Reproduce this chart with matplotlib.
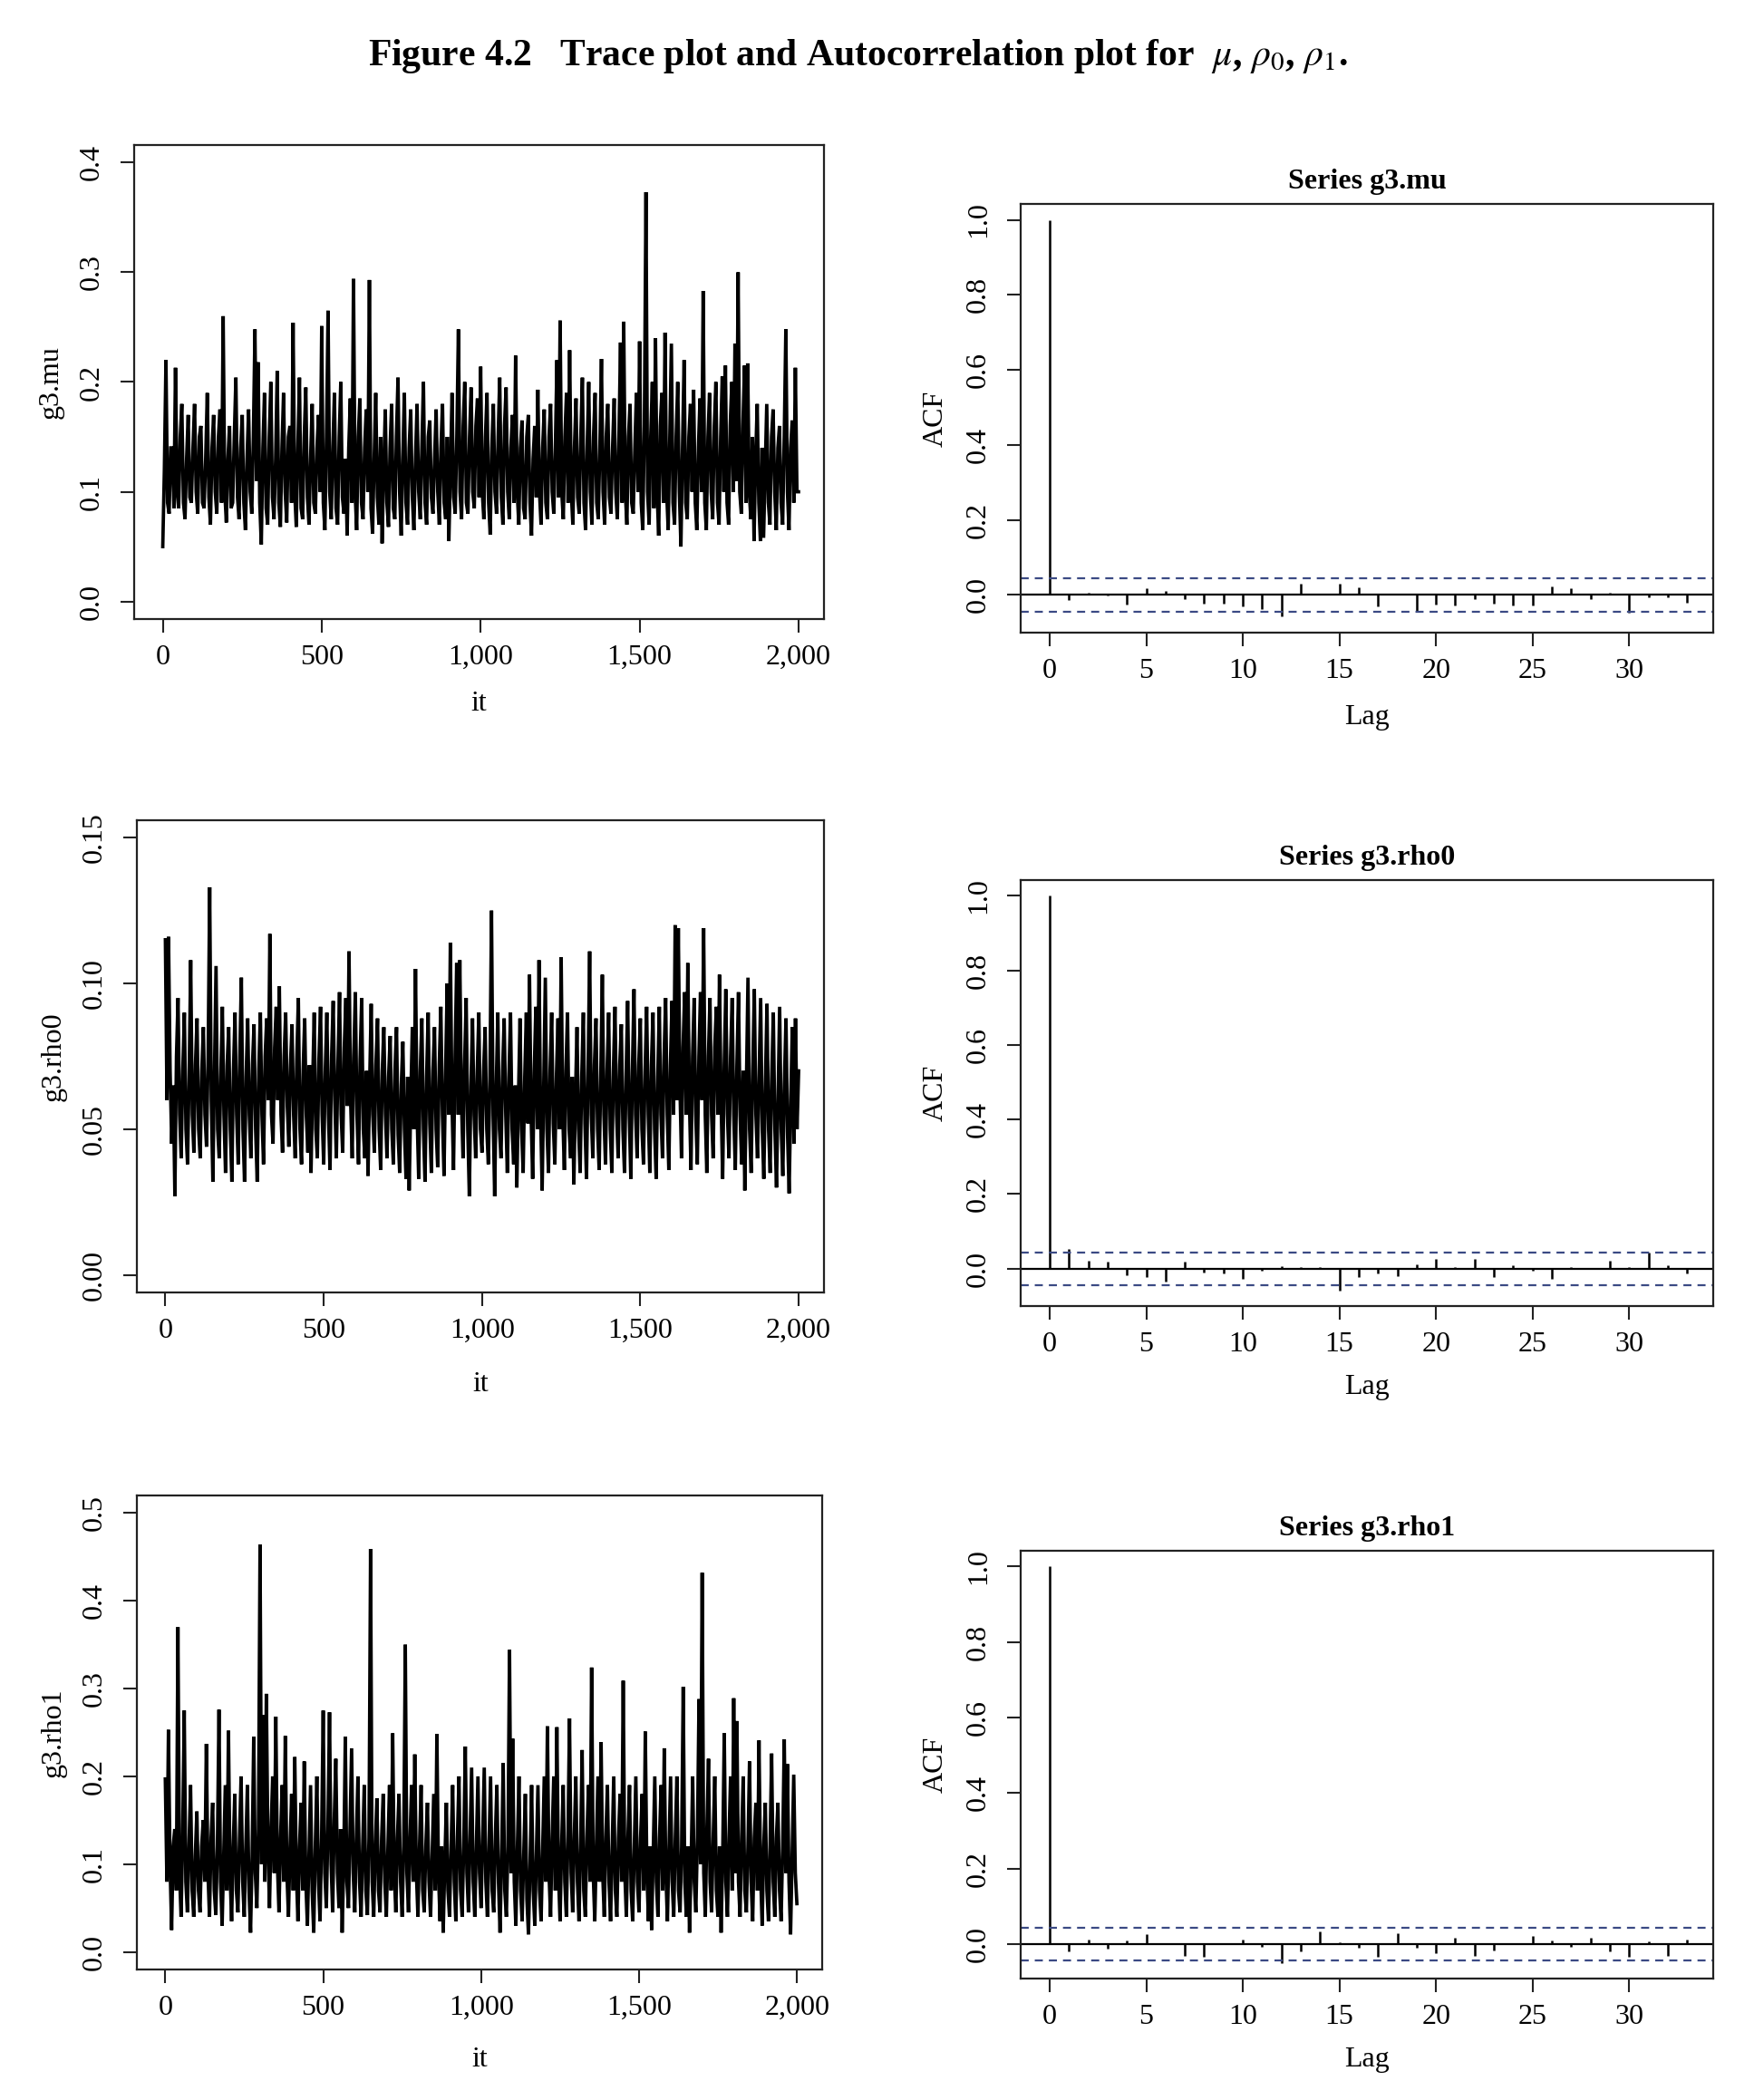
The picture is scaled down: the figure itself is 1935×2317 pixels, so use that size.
import matplotlib
matplotlib.use('Agg')
import matplotlib.pyplot as plt
import numpy as np

plt.rcParams['font.family'] = ['Liberation Serif', 'DejaVu Serif']
plt.rcParams['mathtext.fontset'] = 'stix'

# ---------------- data ----------------
n_iter = 2000
it_step = 5  # one read value every 5 iterations

g3_mu = [
    0.05,0.12, 0.22,0.09, 0.08,0.14, 0.14,0.085, 0.213,0.1, 0.085,0.15, 0.18,0.09, 0.075,0.13, 0.17,0.095, 0.09,0.14,
    0.18,0.1, 0.08,0.15, 0.16,0.09, 0.085,0.13, 0.19,0.095, 0.07,0.14, 0.17,0.1, 0.08,0.15, 0.175,0.09, 0.26,0.1,
    0.072,0.13, 0.16,0.085, 0.09,0.15, 0.204,0.095, 0.075,0.14, 0.17,0.09, 0.065,0.13, 0.175,0.1, 0.08,0.15, 0.248,0.11,
    0.218,0.09, 0.052,0.14, 0.19,0.085, 0.07,0.15, 0.2,0.095, 0.075,0.13, 0.21,0.09, 0.068,0.14, 0.19,0.1, 0.072,0.15,
    0.16,0.09, 0.254,0.1, 0.068,0.14, 0.204,0.085, 0.075,0.15, 0.195,0.095, 0.07,0.13, 0.18,0.09, 0.08,0.14, 0.17,0.1,
    0.251,0.09, 0.065,0.15, 0.265,0.1, 0.075,0.14, 0.19,0.085, 0.07,0.15, 0.2,0.095, 0.08,0.13, 0.06,0.14, 0.185,0.09,
    0.294,0.1, 0.065,0.15, 0.185,0.09, 0.075,0.14, 0.175,0.1, 0.293,0.085, 0.062,0.13, 0.19,0.095, 0.07,0.15, 0.053,0.12,
    0.175,0.09, 0.068,0.14, 0.18,0.085, 0.075,0.15, 0.204,0.1, 0.06,0.13, 0.19,0.09, 0.07,0.14, 0.175,0.095, 0.065,0.13,
    0.18,0.1, 0.075,0.14, 0.2,0.09, 0.07,0.15, 0.165,0.095, 0.08,0.13, 0.175,0.1, 0.07,0.14, 0.18,0.09, 0.075,0.15,
    0.055,0.12, 0.19,0.095, 0.08,0.15, 0.248,0.1, 0.075,0.16, 0.2,0.09, 0.08,0.15, 0.195,0.1, 0.085,0.16, 0.185,0.095,
    0.214,0.1, 0.075,0.15, 0.19,0.09, 0.061,0.14, 0.18,0.1, 0.08,0.15, 0.204,0.095, 0.07,0.16, 0.195,0.1, 0.075,0.14,
    0.17,0.09, 0.224,0.1, 0.07,0.14, 0.165,0.085, 0.075,0.15, 0.17,0.09, 0.06,0.13, 0.16,0.095, 0.193,0.1, 0.07,0.14,
    0.175,0.09, 0.075,0.15, 0.18,0.1, 0.08,0.14, 0.22,0.095, 0.256,0.1, 0.075,0.15, 0.19,0.09, 0.229,0.1, 0.07,0.14,
    0.185,0.095, 0.08,0.15, 0.204,0.09, 0.065,0.14, 0.2,0.1, 0.07,0.15, 0.19,0.09, 0.075,0.14, 0.221,0.1, 0.07,0.15,
    0.18,0.095, 0.08,0.14, 0.185,0.1, 0.075,0.15, 0.236,0.09, 0.255,0.1, 0.07,0.15, 0.18,0.09, 0.08,0.14, 0.19,0.1,
    0.237,0.09, 0.065,0.16, 0.373,0.1, 0.07,0.15, 0.2,0.085, 0.24,0.1, 0.06,0.16, 0.19,0.09, 0.245,0.1, 0.065,0.15,
    0.235,0.09, 0.07,0.15, 0.2,0.1, 0.05,0.14, 0.22,0.09, 0.075,0.15, 0.18,0.1, 0.193,0.09, 0.065,0.14, 0.185,0.1,
    0.283,0.09, 0.065,0.15, 0.19,0.1, 0.075,0.16, 0.2,0.09, 0.07,0.15, 0.205,0.1, 0.215,0.09, 0.07,0.16, 0.2,0.1,
    0.235,0.11, 0.3,0.1, 0.08,0.16, 0.215,0.09, 0.217,0.1, 0.075,0.15, 0.055,0.13, 0.18,0.09, 0.055,0.14, 0.058,0.12,
    0.18,0.09, 0.07,0.15, 0.175,0.1, 0.065,0.14, 0.16,0.09, 0.07,0.15, 0.248,0.1, 0.065,0.14, 0.165,0.09, 0.213,0.1,
    0.1,
]

g3_rho0 = [
    0.115,0.06, 0.116,0.07, 0.045,0.065, 0.027,0.075, 0.095,0.055, 0.04,0.07, 0.09,0.05, 0.038,0.068, 0.108,0.055, 0.042,0.072,
    0.088,0.05, 0.04,0.07, 0.085,0.055, 0.044,0.075, 0.133,0.06, 0.032,0.07, 0.106,0.05, 0.04,0.068, 0.092,0.055, 0.035,0.072,
    0.085,0.05, 0.032,0.07, 0.09,0.055, 0.038,0.075, 0.102,0.05, 0.032,0.068, 0.088,0.055, 0.04,0.072, 0.086,0.05, 0.032,0.07,
    0.09,0.055, 0.038,0.075, 0.088,0.06, 0.117,0.055, 0.045,0.078, 0.092,0.06, 0.099,0.055, 0.042,0.075, 0.09,0.058, 0.044,0.072,
    0.086,0.055, 0.04,0.074, 0.095,0.05, 0.038,0.07, 0.088,0.055, 0.042,0.072, 0.035,0.065, 0.09,0.05, 0.04,0.074, 0.092,0.055,
    0.038,0.07, 0.09,0.055, 0.036,0.075, 0.094,0.06, 0.04,0.072, 0.097,0.055, 0.042,0.078, 0.095,0.058, 0.111,0.06, 0.04,0.075,
    0.097,0.055, 0.038,0.074, 0.095,0.05, 0.04,0.07, 0.034,0.065, 0.093,0.055, 0.042,0.072, 0.088,0.05, 0.036,0.07, 0.085,0.055,
    0.04,0.068, 0.082,0.05, 0.038,0.07, 0.085,0.048, 0.035,0.065, 0.08,0.05, 0.033,0.068, 0.029,0.06, 0.085,0.05, 0.105,0.055,
    0.033,0.07, 0.088,0.05, 0.032,0.068, 0.09,0.052, 0.035,0.07, 0.085,0.05, 0.037,0.072, 0.092,0.055, 0.034,0.07, 0.1,0.055,
    0.114,0.06, 0.036,0.075, 0.107,0.055, 0.108,0.06, 0.04,0.072, 0.095,0.05, 0.027,0.065, 0.088,0.055, 0.04,0.07, 0.09,0.05,
    0.042,0.07, 0.085,0.05, 0.038,0.068, 0.125,0.055, 0.027,0.065, 0.09,0.05, 0.04,0.07, 0.088,0.055, 0.035,0.068, 0.09,0.05,
    0.038,0.065, 0.03,0.06, 0.088,0.05, 0.035,0.068, 0.09,0.052, 0.103,0.055, 0.033,0.07, 0.092,0.05, 0.108,0.055, 0.029,0.065,
    0.102,0.05, 0.035,0.07, 0.09,0.052, 0.038,0.068, 0.088,0.05, 0.109,0.055, 0.036,0.07, 0.09,0.05, 0.04,0.068, 0.031,0.06,
    0.085,0.05, 0.035,0.068, 0.09,0.052, 0.033,0.07, 0.111,0.055, 0.04,0.072, 0.088,0.05, 0.036,0.068, 0.103,0.055, 0.038,0.07,
    0.09,0.05, 0.035,0.07, 0.092,0.055, 0.04,0.072, 0.086,0.05, 0.035,0.068, 0.094,0.055, 0.033,0.07, 0.098,0.055, 0.04,0.072,
    0.088,0.05, 0.038,0.07, 0.092,0.055, 0.035,0.072, 0.09,0.05, 0.033,0.068, 0.092,0.055, 0.04,0.075, 0.095,0.055, 0.036,0.072,
    0.094,0.055, 0.12,0.06, 0.119,0.065, 0.04,0.078, 0.097,0.055, 0.107,0.06, 0.036,0.075, 0.095,0.055, 0.038,0.075, 0.097,0.06,
    0.119,0.055, 0.035,0.075, 0.095,0.055, 0.04,0.078, 0.092,0.055, 0.103,0.06, 0.033,0.072, 0.098,0.055, 0.04,0.075, 0.095,0.055,
    0.036,0.072, 0.097,0.055, 0.038,0.07, 0.029,0.065, 0.102,0.05, 0.035,0.07, 0.098,0.055, 0.04,0.068, 0.095,0.05, 0.033,0.066,
    0.093,0.05, 0.035,0.068, 0.09,0.05, 0.03,0.062, 0.092,0.05, 0.034,0.066, 0.088,0.048, 0.028,0.06, 0.085,0.045, 0.088,0.05,
    0.07,
]

g3_rho1 = [
    0.197,0.08, 0.253,0.1, 0.025,0.12, 0.14,0.07, 0.37,0.09, 0.04,0.13, 0.275,0.08, 0.045,0.12, 0.19,0.07, 0.04,0.11,
    0.16,0.07, 0.045,0.12, 0.15,0.08, 0.237,0.09, 0.04,0.13, 0.17,0.07, 0.042,0.12, 0.276,0.08, 0.03,0.11, 0.19,0.07,
    0.252,0.09, 0.035,0.12, 0.18,0.07, 0.045,0.13, 0.2,0.08, 0.04,0.12, 0.19,0.07, 0.022,0.11, 0.245,0.09, 0.05,0.14,
    0.464,0.1, 0.27,0.08, 0.294,0.12, 0.05,0.14, 0.2,0.09, 0.268,0.1, 0.045,0.13, 0.19,0.08, 0.246,0.09, 0.04,0.12,
    0.18,0.07, 0.222,0.09, 0.035,0.12, 0.17,0.07, 0.217,0.08, 0.03,0.11, 0.19,0.07, 0.022,0.12, 0.2,0.08, 0.035,0.13,
    0.275,0.09, 0.05,0.14, 0.273,0.1, 0.045,0.15, 0.22,0.09, 0.05,0.14, 0.022,0.1, 0.245,0.08, 0.05,0.14, 0.232,0.09,
    0.045,0.13, 0.2,0.08, 0.04,0.12, 0.19,0.07, 0.042,0.13, 0.459,0.08, 0.04,0.12, 0.175,0.07, 0.045,0.13, 0.18,0.08,
    0.04,0.12, 0.19,0.07, 0.249,0.09, 0.045,0.13, 0.18,0.08, 0.04,0.12, 0.35,0.09, 0.045,0.13, 0.19,0.08, 0.225,0.09,
    0.04,0.12, 0.19,0.07, 0.045,0.12, 0.17,0.08, 0.04,0.11, 0.18,0.07, 0.248,0.09, 0.035,0.12, 0.022,0.1, 0.17,0.07,
    0.04,0.12, 0.19,0.08, 0.035,0.13, 0.2,0.07, 0.04,0.12, 0.234,0.09, 0.045,0.13, 0.21,0.08, 0.04,0.12, 0.2,0.09,
    0.05,0.13, 0.21,0.08, 0.04,0.12, 0.2,0.07, 0.045,0.13, 0.19,0.08, 0.022,0.11, 0.215,0.07, 0.04,0.12, 0.344,0.09,
    0.243,0.08, 0.03,0.12, 0.2,0.07, 0.035,0.11, 0.18,0.06, 0.02,0.1, 0.19,0.07, 0.03,0.11, 0.19,0.07, 0.035,0.12,
    0.2,0.08, 0.257,0.09, 0.04,0.13, 0.2,0.07, 0.256,0.09, 0.035,0.12, 0.19,0.08, 0.04,0.13, 0.266,0.09, 0.045,0.13,
    0.2,0.08, 0.035,0.12, 0.23,0.07, 0.04,0.13, 0.19,0.08, 0.324,0.09, 0.035,0.12, 0.2,0.08, 0.239,0.09, 0.04,0.13,
    0.19,0.08, 0.035,0.12, 0.2,0.07, 0.04,0.13, 0.18,0.08, 0.309,0.09, 0.04,0.13, 0.19,0.07, 0.035,0.12, 0.2,0.08,
    0.045,0.13, 0.18,0.07, 0.251,0.09, 0.035,0.12, 0.025,0.11, 0.2,0.08, 0.04,0.13, 0.19,0.07, 0.232,0.09, 0.035,0.12,
    0.2,0.08, 0.04,0.13, 0.2,0.07, 0.045,0.12, 0.302,0.08, 0.04,0.12, 0.022,0.1, 0.2,0.08, 0.045,0.13, 0.288,0.1,
    0.432,0.09, 0.04,0.14, 0.22,0.08, 0.045,0.13, 0.2,0.07, 0.04,0.12, 0.022,0.11, 0.249,0.08, 0.04,0.13, 0.2,0.07,
    0.289,0.09, 0.263,0.08, 0.04,0.13, 0.2,0.07, 0.045,0.12, 0.217,0.08, 0.035,0.13, 0.17,0.07, 0.241,0.09, 0.03,0.12,
    0.17,0.07, 0.035,0.12, 0.226,0.08, 0.04,0.13, 0.17,0.07, 0.035,0.12, 0.242,0.09, 0.214,0.08, 0.02,0.11, 0.202,0.09,
    0.055,
]

acf_mu = [1.0, -0.014, 0.006, -0.002, -0.025, 0.017, 0.010, -0.012, -0.023, -0.023,
          -0.030, -0.037, -0.058, 0.031, 0.0, 0.031, 0.020, -0.031, 0.0, -0.044,
          -0.025, -0.027, -0.012, -0.023, -0.027, -0.027, 0.024, 0.017, -0.012, 0.005,
          -0.047, -0.007, -0.007, -0.020]
acf_rho0 = [1.0, 0.052, 0.021, 0.019, -0.018, -0.022, -0.034, 0.019, -0.010, -0.014,
            -0.027, -0.006, 0.006, 0.004, 0.004, -0.058, -0.022, -0.012, -0.019, 0.011,
            0.025, 0.004, 0.025, -0.022, 0.008, -0.006, -0.028, 0.004, 0.0, 0.021,
            0.004, 0.043, 0.008, -0.014]
acf_rho1 = [1.0, -0.020, 0.012, -0.011, 0.010, 0.026, 0.0, -0.031, -0.034, 0.0,
            0.012, -0.006, -0.049, -0.020, 0.035, 0.006, -0.010, -0.034, 0.028, -0.010,
            -0.024, 0.018, -0.031, -0.016, 0.0, 0.022, 0.010, -0.006, 0.018, -0.018,
            -0.033, 0.008, -0.031, 0.012]

trace_names = ['g3.mu', 'g3.rho0', 'g3.rho1']
trace_yticks = [[0.0, 0.1, 0.2, 0.3, 0.4],
                [0.00, 0.05, 0.10, 0.15],
                [0.0, 0.1, 0.2, 0.3, 0.4, 0.5]]
trace_yticklabels = [['0.0', '0.1', '0.2', '0.3', '0.4'],
                     ['0.00', '0.05', '0.10', '0.15'],
                     ['0.0', '0.1', '0.2', '0.3', '0.4', '0.5']]
it_ticks = [0, 500, 1000, 1500, 2000]
it_ticklabels = ['0', '500', '1,000', '1,500', '2,000']
acf_yticks = [0.0, 0.2, 0.4, 0.6, 0.8, 1.0]
acf_yticklabels = ['0.0', '0.2', '0.4', '0.6', '0.8', '1.0']
lag_ticks = [0, 5, 10, 15, 20, 25, 30]

# ---------------- layout ----------------
W, H = 1935, 2317
fig = plt.figure(figsize=(W / 100, H / 100), dpi=100)
fig.patch.set_facecolor('white')

def ax_px(l, t, r, b):
    return fig.add_axes([l / W, 1 - b / H, (r - l) / W, (b - t) / H])

trace_boxes = [(148, 160, 909, 683), (151, 905, 909, 1426), (151, 1650, 907, 2173)]
acf_boxes = [(1126, 225, 1890, 698), (1126, 971, 1890, 1441), (1126, 1711, 1890, 2183)]
trace_xlab_y = [-0.178, -0.194, -0.19]
acf_xlab_y = [-0.197, -0.19, -0.19]

FS = 23
spine_c = '#222222'

def style(ax):
    for s in ax.spines.values():
        s.set_linewidth(1.6)
        s.set_color(spine_c)
    ax.tick_params(axis='both', direction='out', length=11, width=1.5,
                   color=spine_c, labelsize=FS, labelcolor='black')
    ax.tick_params(axis='x', pad=9)
    ax.tick_params(axis='y', pad=12)
    for lab in ax.get_yticklabels():
        lab.set_rotation(90)
        lab.set_va('center')

def labels(ax, xl, yl, xcoord, ycoord):
    ax.set_ylabel(yl, fontsize=FS, va='center')
    ax.set_xlabel(xl, fontsize=FS, va='center')
    ax.yaxis.set_label_coords(ycoord, 0.5)
    ax.xaxis.set_label_coords(0.5, xcoord)

traces = [g3_mu, g3_rho0, g3_rho1]
for k in range(3):
    ax = ax_px(*trace_boxes[k])
    vals = np.array(traces[k])
    its = np.arange(len(vals)) * it_step
    ax.plot(its, vals, color='black', lw=2.7, solid_joinstyle='miter')
    ymax = trace_yticks[k][-1]
    ax.set_ylim(-0.04 * ymax, 1.04 * ymax)
    ax.set_xlim(-90, 2080)
    ax.set_xticks(it_ticks)
    ax.set_xticklabels(it_ticklabels)
    ax.set_yticks(trace_yticks[k])
    ax.set_yticklabels(trace_yticklabels[k])
    style(ax)
    labels(ax, 'it', trace_names[k], trace_xlab_y[k], -0.121)

acfs = [acf_mu, acf_rho0, acf_rho1]
clim = 1.96 / np.sqrt(n_iter)
for k in range(3):
    ax = ax_px(*acf_boxes[k])
    a = np.array(acfs[k])
    lags = np.arange(len(a))
    ax.vlines(lags, 0, a, color='black', lw=1.8)
    ax.axhline(0, color='black', lw=1.6)
    for c in (clim, -clim):
        ax.axhline(c, color='#3b4a84', lw=1.6, ls=(0, (4, 3)))
    lo = min(a.min(), -clim)
    hi = max(a.max(), clim)
    pad = 0.04 * (hi - lo)
    ax.set_ylim(lo - pad, hi + pad)
    ax.set_xlim(-1.5, 34.35)
    ax.set_xticks(lag_ticks)
    ax.set_yticks(acf_yticks)
    ax.set_yticklabels(acf_yticklabels)
    style(ax)
    labels(ax, 'Lag', 'ACF', acf_xlab_y[k], -0.123)
    ax.set_title('Series ' + trace_names[k], fontsize=23, fontweight='bold', pad=12)

fig.text(946 / W, 1 - 62 / H,
         'Figure 4.2   Trace plot and Autocorrelation plot for  $\\mu$, $\\rho_0$, $\\rho_1$.',
         fontsize=30, fontweight='bold', ha='center', va='center')

fig.savefig('out.png', dpi=100, facecolor='white')
